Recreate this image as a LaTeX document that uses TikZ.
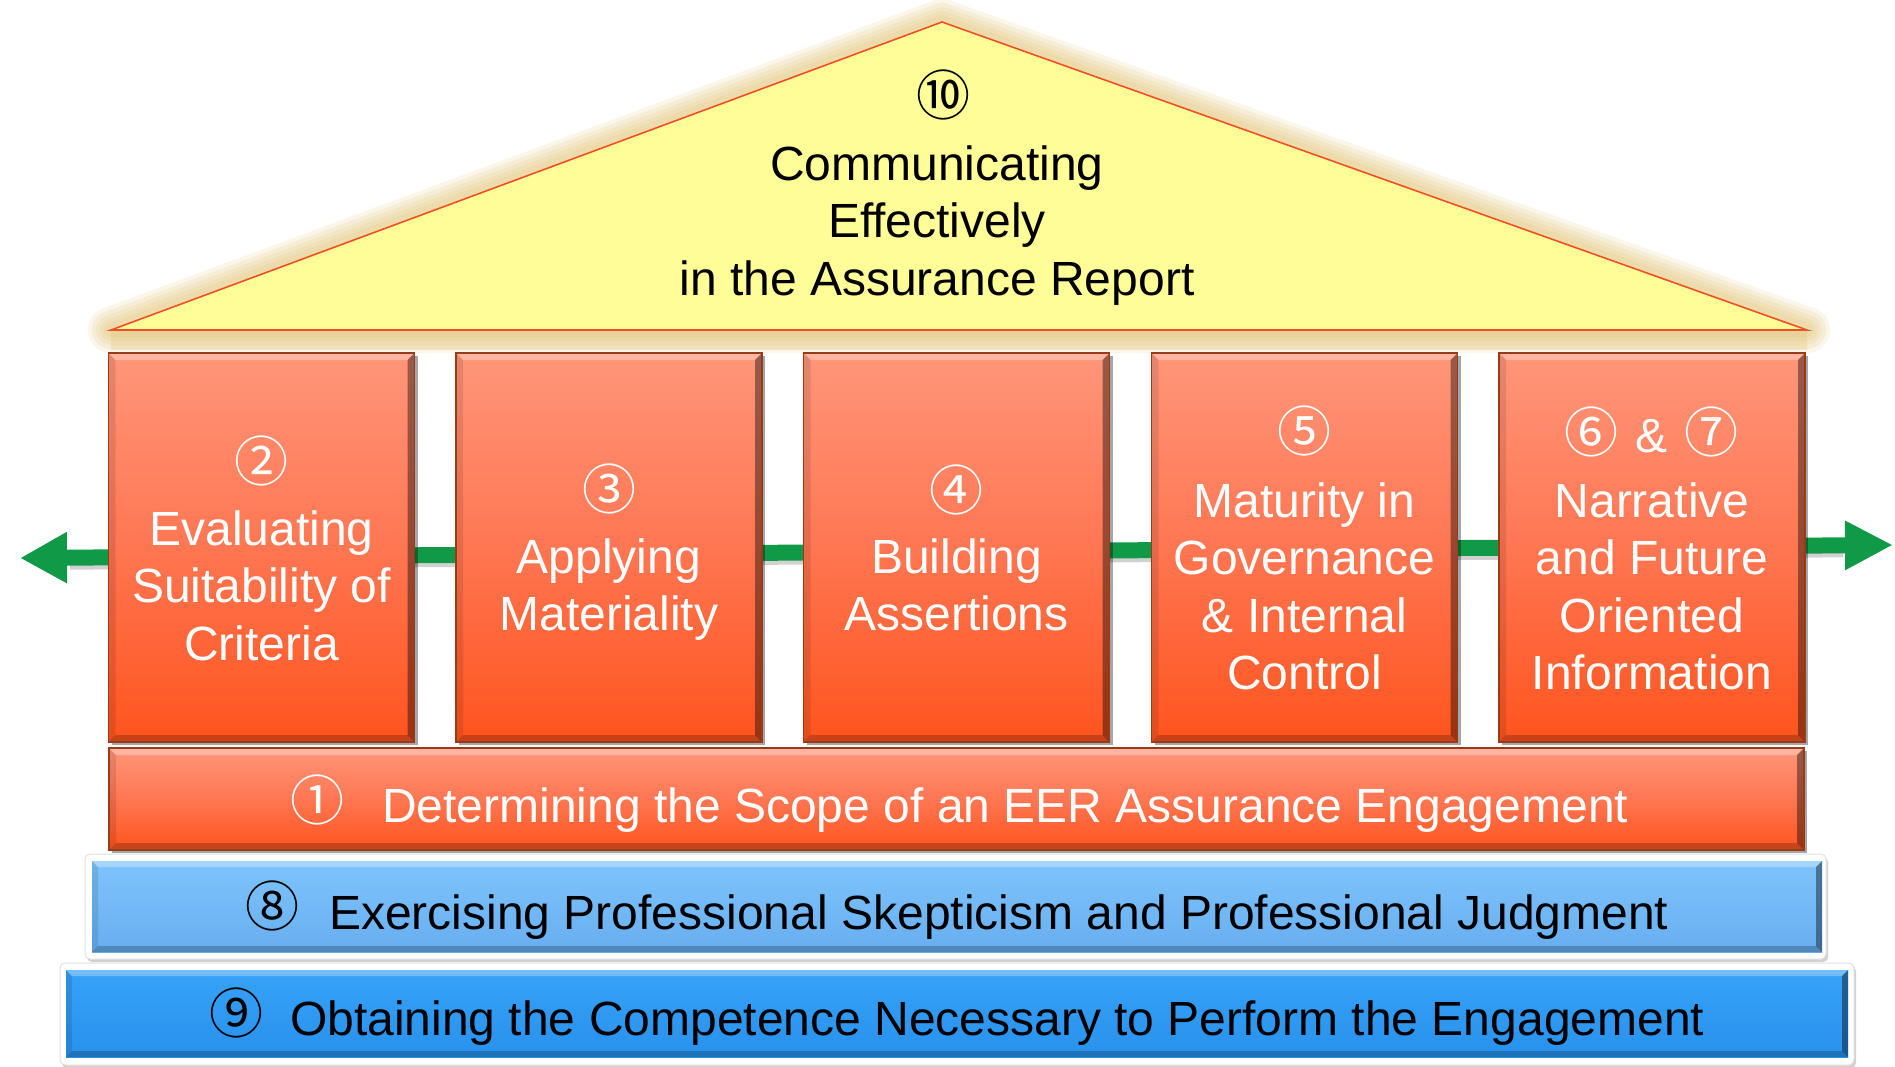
\documentclass[tikz,border=0pt]{standalone}
\usepackage{fontspec}
\setmainfont{Liberation Sans}
\newfontfamily\circfont{Noto Sans CJK JP}
\usetikzlibrary{arrows.meta,shadows}
\definecolor{salmon}{RGB}{255,150,122}
\definecolor{orangebot}{RGB}{255,84,30}
\definecolor{orangemid}{RGB}{255,118,82}
\definecolor{pillaredge}{RGB}{150,60,25}
\definecolor{roofyellow}{RGB}{255,253,152}
\definecolor{roofedge}{RGB}{240,80,35}
\definecolor{glowc}{RGB}{222,188,100}
\definecolor{eergreen}{RGB}{16,154,72}
\definecolor{lbTop}{RGB}{125,196,252}
\definecolor{lbBot}{RGB}{104,174,240}
\definecolor{bTop}{RGB}{55,162,248}
\definecolor{bBot}{RGB}{40,145,236}
\begin{document}
\begin{tikzpicture}[x=1pt,y=-1pt,
  bevel/.style={path picture={
    \path (path picture bounding box.north west) coordinate (bbnw)
          (path picture bounding box.north east) coordinate (bbne)
          (path picture bounding box.south west) coordinate (bbsw)
          (path picture bounding box.south east) coordinate (bbse);
    \fill[white,opacity=.30] (bbnw) -- (bbne) -- ([shift={(-#1,-#1)}]bbne) -- ([shift={(#1,-#1)}]bbnw) -- cycle;
    \fill[black,opacity=.40] (bbne) -- (bbse) -- ([shift={(-#1,#1)}]bbse) -- ([shift={(-#1,-#1)}]bbne) -- cycle;
    \fill[black,opacity=.22] (bbsw) -- (bbse) -- ([shift={(-#1,#1)}]bbse) -- ([shift={(#1,#1)}]bbsw) -- cycle;
    \fill[black,opacity=.10] (bbnw) -- (bbsw) -- ([shift={(#1,#1)}]bbsw) -- ([shift={(#1,-#1)}]bbnw) -- cycle;
  }},
  orangebox/.style={draw=pillaredge, line width=1.2pt, top color=salmon, bottom color=orangebot, middle color=orangemid,
    inner sep=0pt, bevel=7pt, drop shadow={shadow xshift=3pt,shadow yshift=-3pt,opacity=.35,fill=black}},
  pillar/.style={orangebox, minimum width=306pt, minimum height=389pt},
  whiteframe/.style={fill=white, draw=black!12, line width=1pt, rounded corners=5pt, inner sep=0pt,
    drop shadow={shadow xshift=2pt,shadow yshift=-3pt,opacity=.3,fill=black!60}},
  bluebar/.style={inner sep=0pt, bevel=6pt},
  bigtext/.style={font=\fontsize{48}{57.5}\selectfont, align=center, inner sep=0pt},
  circnum/.style={font=\fontsize{54}{60}\circfont, inner sep=0pt},
]
\useasboundingbox (0,0) rectangle (1895,1066);

% roof
\coordinate (apex) at (942,22);
\coordinate (rbl) at (111,330);
\coordinate (rbr) at (1807,330);
\foreach \w in {46,38,30,22,14}
  \draw[glowc, line width=\w pt, opacity=.14, line join=round] (apex) -- (rbl) -- (rbr) -- cycle;
\fill[glowc, opacity=.25] (rbl) -- (rbr) -- ([yshift=-20pt]rbr) -- ([yshift=-20pt]rbl) -- cycle;
\draw[fill=roofyellow, draw=roofedge, line width=1.6pt, line join=miter] (apex) -- (rbl) -- (rbr) -- cycle;

% green arrow
\coordinate (gl) at (20,558);
\coordinate (gr) at (1893,545);
\draw[black, opacity=.18, line width=16pt, shorten <=50pt, shorten >=50pt] ([yshift=-4pt]gl) -- ([yshift=-4pt]gr);
\draw[eergreen, line width=16pt, {Triangle[length=47pt,width=48pt]}-{Triangle[length=48pt,width=46pt]}] (gl) -- (gr);

% pillars
\node[pillar] (p1) at (261.5,547.5) {};
\node[pillar] (p2) at (609,547.5) {};
\node[pillar] (p3) at (956.5,547.5) {};
\node[pillar] (p4) at (1304.5,547.5) {};
\node[pillar] (p5) at (1652,547.5) {};

% foundation bars
\node[orangebox, minimum width=1695pt, minimum height=102pt] (b1) at (956.5,799) {};
\node[whiteframe, minimum width=1741pt, minimum height=105pt] (f8) at (955.5,906.5) {};
\node[bluebar, top color=lbTop, bottom color=lbBot, minimum width=1730pt, minimum height=91pt] (b8) at (957,906.5) {};
\node[whiteframe, minimum width=1794pt, minimum height=102pt] (f9) at (957,1014) {};
\node[bluebar, top color=bTop, bottom color=bBot, minimum width=1782pt, minimum height=87pt] (b9) at (957,1013.5) {};

% roof text
\node[circnum] (n10) at (943,95) {⑩};
\node[bigtext, anchor=north] (t10) at (937,139.75) {\strut Communicating\\Effectively\\in the Assurance Report};

% pillar texts
\node[circnum, text=white] (n2) at (261.5,461) {②};
\node[bigtext, text=white, anchor=north] (t2) at (261.5,504.75) {\strut Evaluating\\Suitability of\\Criteria};
\node[circnum, text=white] (n3) at (609,489) {③};
\node[bigtext, text=white, anchor=north] (t3) at (609,532.75) {\strut Applying\\Materiality};
\node[circnum, text=white] (n4) at (956.5,490) {④};
\node[bigtext, text=white, anchor=north] (t4) at (956.5,532.75) {\strut Building\\Assertions};
\node[circnum, text=white] (n5) at (1304.5,431) {⑤};
\node[bigtext, text=white, anchor=north] (t5) at (1304.5,476.75) {\strut Maturity in\\Governance\\\& Internal\\Control};
\node[bigtext, text=white] (n67) at (1651,432) {{\fontsize{54}{60}\circfont ⑥}\hspace{17pt}\&\hspace{17pt}{\fontsize{54}{60}\circfont ⑦}};
\node[bigtext, text=white, anchor=north] (t67) at (1652,476.75) {\strut Narrative\\and Future\\Oriented\\Information};

% bar texts
\node[circnum, text=white] (n1) at (317,799.5) {①};
\node[bigtext, text=white, anchor=base west] (t1) at (382,822) {Determining the Scope of an EER Assurance Engagement};
\node[circnum] (n8) at (272,906) {⑧};
\node[bigtext, anchor=base west] (t8) at (329,929) {Exercising Professional Skepticism and Professional Judgment};
\node[circnum] (n9) at (236,1013) {⑨};
\node[bigtext, anchor=base west] (t9) at (290,1035) {Obtaining the Competence Necessary to Perform the Engagement};
\end{tikzpicture}
\end{document}
